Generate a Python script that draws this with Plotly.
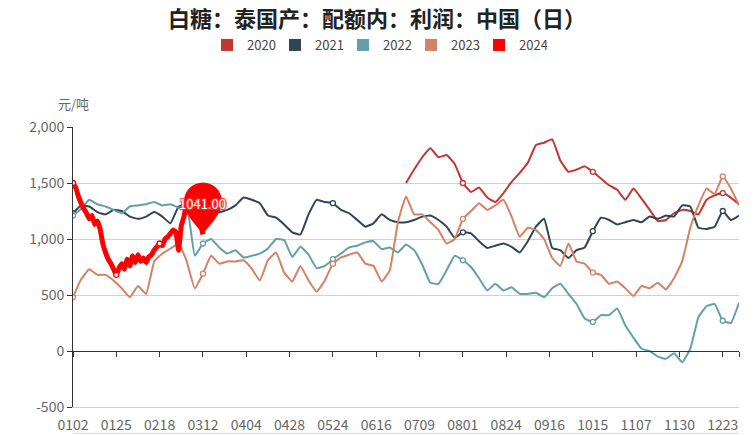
import plotly.graph_objects as go

# ---------------- data ----------------
title_text = "白糖：泰国产：配额内：利润：中国（日）"
unit_text = "元/吨"

# category tick labels (one label every 16 trading days)
tick_labels = ["0102", "0125", "0218", "0312", "0404", "0428", "0524", "0616",
               "0709", "0801", "0824", "0916", "1015", "1107", "1130", "1223"]
label_every = 16
n_days = 247          # trading-day categories on the axis
sample_step = 3       # series 2020-2023 are read every 3 trading days

y_ticks = [-500, 0, 500, 1000, 1500, 2000]
y_tick_text = ["-500", "0", "500", "1,000", "1,500", "2,000"]

series_names = ["2020", "2021", "2022", "2023", "2024"]
series_colors = ["#c23531", "#2f4554", "#61a0a8", "#d48265", "#ff0000"]

# 2020 starts at sample 41 (early July)
v2020_start = 41
v2020 = [1500, 1620, 1730, 1810, 1730, 1750, 1670, 1500, 1420, 1460,
         1370, 1330, 1410, 1510, 1590, 1680, 1840, 1860, 1890, 1700,
         1600, 1620, 1650, 1600, 1540, 1480, 1440, 1350, 1450, 1360,
         1260, 1160, 1170, 1230, 1260, 1250, 1220, 1350, 1390, 1410,
         1370, 1310]

v2021 = [1230, 1300, 1290, 1240, 1220, 1260, 1250, 1200, 1180, 1200,
         1240, 1200, 1140, 1290, 1310, 1290, 1280, 1270, 1240, 1260,
         1300, 1370, 1350, 1320, 1210, 1190, 1130, 1060, 1040, 1220,
         1350, 1330, 1320, 1260, 1230, 1170, 1110, 1140, 1220, 1170,
         1150, 1150, 1170, 1200, 1210, 1170, 1110, 1010, 1060, 1050,
         980, 920, 940, 960, 930, 880, 980, 1110, 1180, 920,
         900, 830, 900, 925, 1070, 1190, 1170, 1130, 1150, 1170,
         1150, 1200, 1180, 1210, 1200, 1300, 1290, 1100, 1090, 1110,
         1250, 1170, 1210]

v2022 = [1210, 1270, 1350, 1310, 1290, 1260, 1230, 1290, 1300, 1310,
         1330, 1300, 1310, 1280, 1290, 850, 960, 1000, 925, 870,
         900, 835, 850, 870, 915, 1000, 990, 840, 930, 860,
         740, 760, 820, 870, 925, 940, 970, 980, 910, 925,
         880, 950, 900, 770, 610, 600, 720, 850, 810, 750,
         650, 540, 600, 540, 570, 510, 510, 520, 480, 560,
         600, 510, 420, 290, 260, 320, 320, 380, 230, 120,
         20, 0, -50, -70, -20, -100, 20, 300, 400, 420,
         270, 250, 430]

v2023 = [480, 640, 730, 680, 680, 630, 560, 480, 580, 510,
         800, 870, 915, 960, 800, 560, 690, 850, 780, 800,
         800, 810, 735, 630, 810, 880, 700, 620, 760, 630,
         530, 630, 780, 835, 860, 880, 780, 760, 620, 720,
         1150, 1380, 1220, 1220, 1150, 1080, 960, 1000, 1180, 1250,
         1320, 1260, 1300, 1350, 1200, 1020, 1100, 1080, 1000, 830,
         760, 960, 800, 780, 700, 680, 600, 620, 560, 490,
         580, 560, 610, 550, 650, 800, 1100, 1300, 1450, 1400,
         1560, 1450, 1300]

# 2024 is read every trading day
v2024 = [1500, 1460, 1380, 1320, 1270, 1230, 1180, 1210, 1130, 1160,
         1090, 960, 880, 820, 780, 730, 680, 740, 780, 730,
         820, 760, 850, 790, 860, 800, 830, 790, 840, 860,
         900, 930, 960, 940, 1000, 1020, 1050, 1080, 1060, 900,
         1120, 1200, 1330, 1400, 1420, 1380, 1300, 1150, 1041]

# ---------------- figure ----------------
FONT = "Noto Sans CJK SC"
fig = go.Figure()

series = [
    (series_names[0], v2020, v2020_start, sample_step, series_colors[0], 2),
    (series_names[1], v2021, 0, sample_step, series_colors[1], 2),
    (series_names[2], v2022, 0, sample_step, series_colors[2], 2),
    (series_names[3], v2023, 0, sample_step, series_colors[3], 2),
    (series_names[4], v2024, 0, 1, series_colors[4], 5),
]

for name, vals, start, step, color, width in series:
    xs = [(start + i) * step for i in range(len(vals))]
    show = [1 if (x % label_every == 0 and x < (n_days - 1)) else 0 for x in xs]
    if name == "2024":
        show[-1] = 0
    fig.add_trace(go.Scatter(
        x=xs, y=vals, name=name, mode="lines+markers", showlegend=False,
        line=dict(color=color, width=width, shape="spline", smoothing=0.35),
        marker=dict(symbol="circle", size=5, color="white",
                    opacity=show, line=dict(color=color, width=1.3)),
        hoverinfo="x+y+name",
    ))

# legend entries (square icons)
for name, color in zip(series_names, series_colors):
    fig.add_trace(go.Scatter(
        x=[None], y=[None], mode="markers", name=name,
        marker=dict(symbol="square", size=12, color=color),
    ))

# helper trace for the zero-line category axis
fig.add_trace(go.Scatter(x=[None], y=[None], xaxis="x2", showlegend=False,
                         hoverinfo="skip"))

# mark point (pin) on the last 2024 value
last_x = (len(v2024) - 1)
last_y = v2024[-1]
pin_path = ("M 0 0 C -5 8 -19 20 -19 33 C -19 43.5 -10.5 52 0 52 "
            "C 10.5 52 19 43.5 19 33 C 19 20 5 8 0 0 Z")
fig.add_shape(type="path", xref="x", yref="y", xsizemode="pixel",
              ysizemode="pixel", xanchor=last_x, yanchor=last_y,
              path=pin_path, fillcolor=series_colors[4], line=dict(width=0),
              layer="above")
halo = ", ".join(f"{dx}px {dy}px 1px #ff3030" for dx in (-1, 1) for dy in (-1, 1))
fig.add_annotation(x=last_x, y=last_y, yshift=31, text=f"{last_y:.2f}",
                   showarrow=False,
                   font=dict(family=FONT, size=13, color="white", shadow=halo))

# unit label
fig.add_annotation(xref="paper", yref="paper", x=0, y=1, yshift=24,
                   text=unit_text, showarrow=False, xanchor="center",
                   yanchor="middle", font=dict(family=FONT, size=13, color="#666"))

# slider top border below the chart
fig.add_shape(type="line", xref="paper", yref="paper", x0=0, x1=1,
              y0=-0.094, y1=-0.094, line=dict(color="#d9d9d9", width=1))

y_min, y_max = y_ticks[0], y_ticks[-1]
tick_pos = [i * label_every for i in range(len(tick_labels))]

fig.update_layout(
    width=754, height=436,
    margin=dict(l=73, r=15, t=127, b=29, autoexpand=False),
    paper_bgcolor="white", plot_bgcolor="white",
    font=dict(family=FONT, color="#666"),
    title=dict(text=f"<b>{title_text}</b>", x=0.5, xanchor="center",
               xref="container", y=1 - 19 / 436, yref="container",
               yanchor="middle", font=dict(family=FONT, size=22, color="#222")),
    legend=dict(orientation="h", xref="container", x=0.5, xanchor="center",
                yref="container", y=1 - 45 / 436, yanchor="middle",
                font=dict(family=FONT, size=13, color="#444"),
                entrywidth=23, entrywidthmode="pixels",
                bgcolor="rgba(0,0,0,0)"),
    xaxis=dict(range=[0, n_days - 1], tickvals=tick_pos, ticktext=tick_labels,
               showgrid=False, zeroline=False, automargin=False,
               showline=True, linecolor="#d0d0d0", linewidth=1,
               ticks="outside", ticklen=5, tickcolor="rgba(0,0,0,0)",
               tickfont=dict(family=FONT, size=14, color="#666")),
    xaxis2=dict(overlaying="x", anchor="free", automargin=False,
                position=(0 - y_min) / (y_max - y_min), side="bottom",
                range=[0, n_days - 1], tickvals=tick_pos + [n_days - 1],
                showticklabels=False, showgrid=False, zeroline=False,
                showline=True, linecolor="#333", linewidth=1,
                ticks="outside", ticklen=5, tickcolor="#333"),
    yaxis=dict(range=[y_min, y_max], tickvals=y_ticks, ticktext=y_tick_text,
               showgrid=True, gridcolor="#d0d0d0", gridwidth=1, automargin=False,
               zeroline=False, showline=True, linecolor="#333", linewidth=1,
               ticks="outside", ticklen=5, tickcolor="#333",
               tickfont=dict(family=FONT, size=14, color="#666")),
    hovermode="closest",
)

fig.write_html("out.html")
